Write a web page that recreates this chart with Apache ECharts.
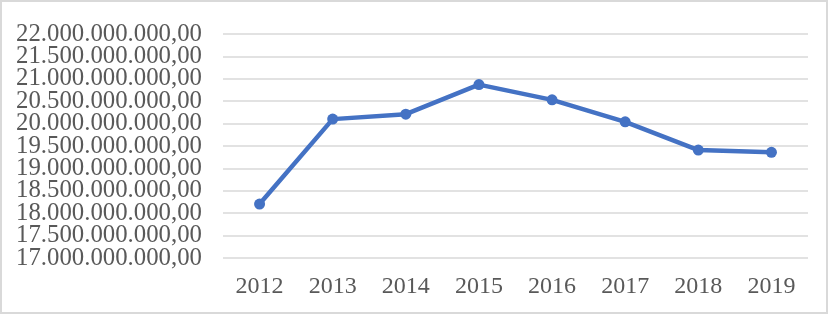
<!DOCTYPE html>
<html>
<head>
<meta charset="utf-8">
<script src="https://cdn.jsdelivr.net/npm/echarts@6/dist/echarts.min.js"></script>
<style>
html,body{margin:0;padding:0;background:#fff;}
#c{width:832px;height:316px;}
</style>
</head>
<body>
<div id="c"></div>
<script>
const years = ['2012','2013','2014','2015','2016','2017','2018','2019'];
const values = [18205000000, 20100000000, 20210000000, 20870000000, 20530000000, 20040000000, 19410000000, 19360000000];
const yMin = 17000000000;
const yMax = 22000000000;
const yStep = 500000000;

function fmt(v){
  const s = Math.round(v).toString().replace(/\B(?=(\d{3})+(?!\d))/g, '.');
  return s + ',00';
}
function isEven(v){ return Math.round((v - yMin) / yStep) % 2 === 0; }

const fontFam = '"Liberation Serif","Times New Roman",serif';
const xFont = {color:'#595959', fontFamily:fontFam, fontSize:24};
const yFont = {color:'#595959', fontFamily:fontFam, fontSize:24.8};

const chart = echarts.init(document.getElementById('c'), null, {renderer:'canvas'});
chart.setOption({
  animation:false,
  backgroundColor:'#ffffff',
  graphic:[{type:'rect', shape:{x:1,y:1,width:826,height:312}, style:{fill:'none', stroke:'#d9d9d9', lineWidth:2}, silent:true}],
  grid:{left:223, right:24, top:34, bottom:58, containLabel:false},
  xAxis:{
    type:'category', data:years, boundaryGap:true,
    axisLine:{show:false}, axisTick:{show:false},
    axisLabel:Object.assign({margin:17}, xFont)
  },
  yAxis:[{
    type:'value', min:yMin, max:yMax, interval:yStep, position:'left',
    axisLine:{show:false}, axisTick:{show:false},
    splitLine:{lineStyle:{color:'#d9d9d9', width:1.5}},
    axisLabel:Object.assign({margin:21, showMinLabel:true, showMaxLabel:true, hideOverlap:false,
      formatter:function(v){ return isEven(v) ? fmt(v) : ''; }}, yFont)
  },{
    type:'value', min:yMin, max:yMax, interval:yStep, position:'left', offset:0,
    axisLine:{show:false}, axisTick:{show:false}, splitLine:{show:false},
    axisLabel:Object.assign({margin:21, showMinLabel:true, showMaxLabel:true, hideOverlap:false,
      formatter:function(v){ return isEven(v) ? '' : fmt(v); }}, yFont)
  }],
  series:[{
    type:'line', data:values, yAxisIndex:0,
    lineStyle:{color:'#4472C4', width:4.5},
    itemStyle:{color:'#4472C4'},
    symbol:'circle', symbolSize:11
  }]
});
</script>
</body>
</html>
